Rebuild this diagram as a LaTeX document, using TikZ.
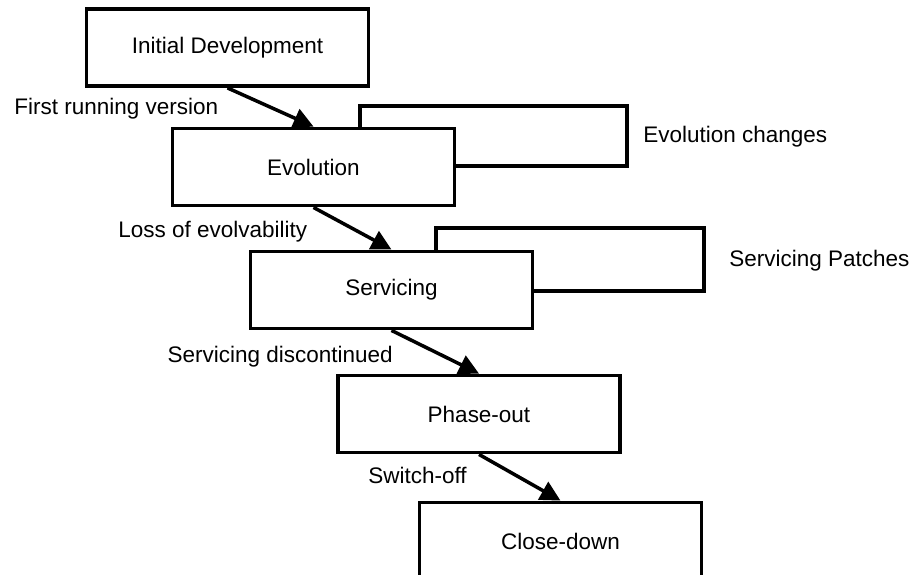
\documentclass[tikz,border=0pt]{standalone}
\usepackage{fontspec}
\setmainfont{Liberation Sans}
\usetikzlibrary{arrows.meta}

\begin{document}
\begin{tikzpicture}[x=0.02cm,y=-0.02cm,
	stage/.style={draw,fill=white,line width=2.2pt,minimum width=5.64cm,minimum height=1.54cm,inner sep=0pt},
	loopbox/.style={draw,line width=2.2pt},
	flow/.style={line width=2pt,-{Triangle[width=0.4cm,length=0.4cm]}},
	note/.style={inner sep=0pt,anchor=base west}]
	\fontsize{12.8pt}{15pt}\selectfont
	\useasboundingbox (0,0) rectangle (914,575);
	% self loops, drawn first so the stages sit on top
	\draw[loopbox] (360,106) rectangle (627,166);
	\draw[loopbox] (436,228) rectangle (704,291);
	% stages
	\node[stage] (init) at (227.5,47.5) {Initial Development};
	\node[stage] (evo) at (313.5,167) {Evolution};
	\node[stage] (serv) at (391.5,290) {Servicing};
	\node[stage] (phase) at (479,414) {Phase-out};
	\node[stage] (close) at (560.5,541) {Close-down};
	% transitions
	\draw[flow] (init.south) -- (evo.north);
	\draw[flow] (evo.south) -- (serv.north);
	\draw[flow] (serv.south) -- (phase.north);
	\draw[flow] (phase.south) -- (close.north);
	% labels
	\node[note] (firstrun) at (14,114) {First running version};
	\node[note] (losse) at (118,237) {Loss of evolvability};
	\node[note,anchor=base east] (servend) at (393,362) {Servicing discontinued};
	\node[note] (switch) at (368,483) {Switch-off};
	\node[note] (evochg) at (643,142) {Evolution changes};
	\node[note] (patches) at (729,266) {Servicing Patches};
\end{tikzpicture}
\end{document}
